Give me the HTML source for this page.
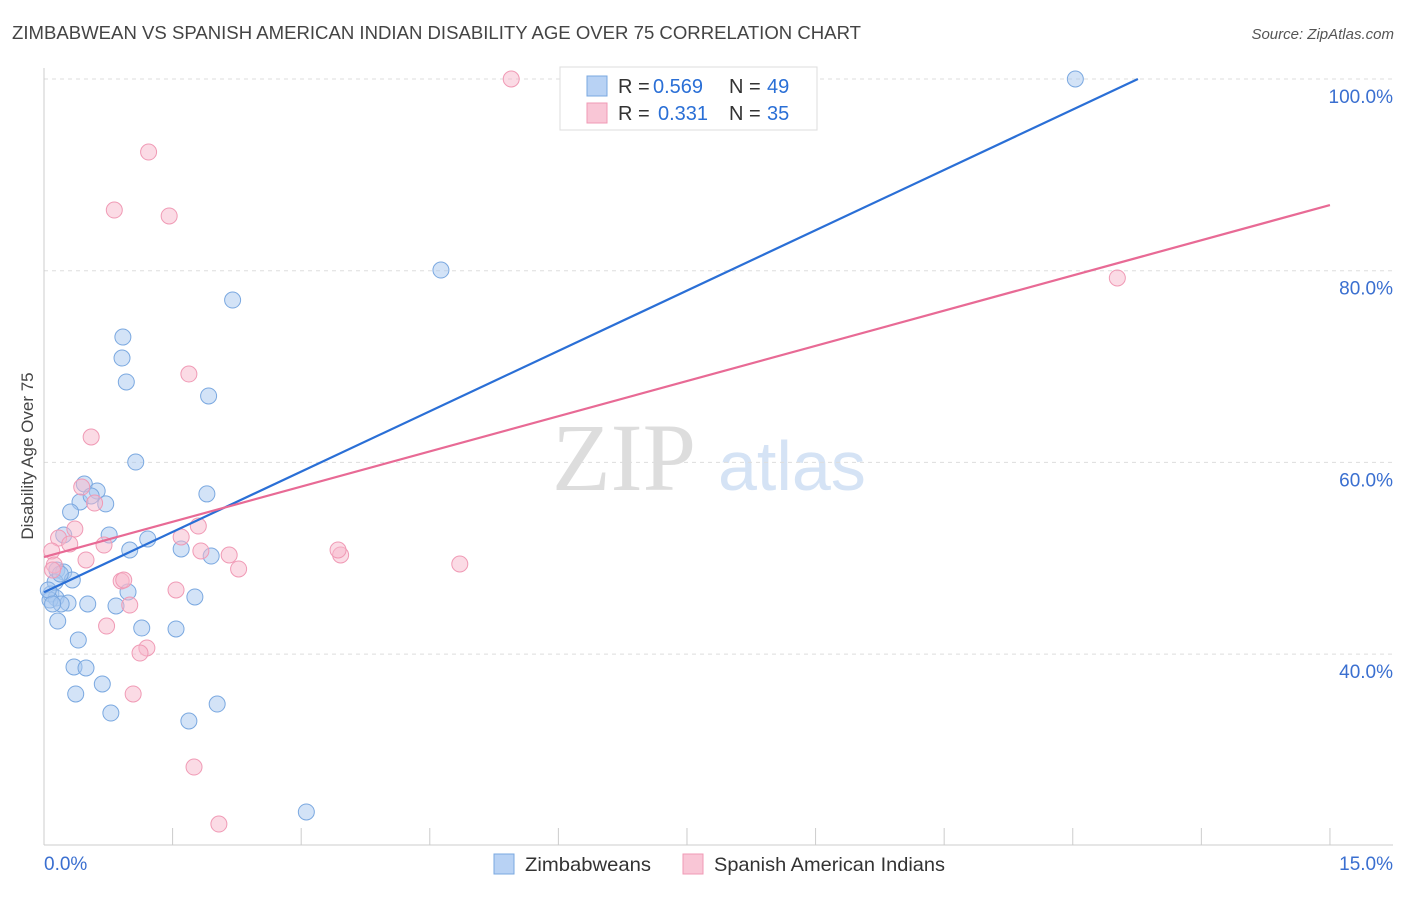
<!DOCTYPE html>
<html><head><meta charset="utf-8"><style>
body{margin:0;background:#fff;font-family:"Liberation Sans",sans-serif;}
svg text{font-family:"Liberation Sans",sans-serif;}
</style></head><body>
<svg id="chart" width="1406" height="892" viewBox="0 0 1406 892" xmlns="http://www.w3.org/2000/svg">
<text x="12" y="39" font-size="18.5" fill="#444" textLength="849" lengthAdjust="spacingAndGlyphs">ZIMBABWEAN VS SPANISH AMERICAN INDIAN DISABILITY AGE OVER 75 CORRELATION CHART</text>
<text x="1394" y="39" font-size="15" fill="#555" text-anchor="end" font-style="italic">Source: ZipAtlas.com</text>
<text x="552" y="490" font-size="96" fill="#ddd" font-family="Liberation Serif" style="font-family:'Liberation Serif',serif">ZIP</text>
<text x="718" y="490" font-size="70" fill="#d5e3f5">atlas</text>
<text transform="translate(33,456) rotate(-90)" font-size="17" fill="#444" text-anchor="middle">Disability Age Over 75</text>
<g id="grid"></g>
<g id="axes"></g>
<g id="marks"></g>
<g>
<rect x="560" y="67" width="257" height="63" fill="#fff" stroke="#ddd"/>
<rect x="587" y="76" width="20" height="20" fill="#b8d2f4" stroke="#7aa8e0"/>
<text x="618" y="93" font-size="20" fill="#333">R =</text>
<text x="653" y="93" font-size="20" fill="#2a6fd6">0.569</text>
<text x="729" y="93" font-size="20" fill="#333">N =</text>
<text x="767" y="93" font-size="20" fill="#2a6fd6">49</text>
<rect x="587" y="103" width="20" height="20" fill="#f9c6d6" stroke="#f09ab5"/>
<text x="618" y="120" font-size="20" fill="#333">R =</text>
<text x="658" y="120" font-size="20" fill="#2a6fd6">0.331</text>
<text x="729" y="120" font-size="20" fill="#333">N =</text>
<text x="767" y="120" font-size="20" fill="#2a6fd6">35</text>
</g>
<g>
<rect x="494" y="854" width="20" height="20" fill="#b8d2f4" stroke="#7aa8e0"/>
<text x="525" y="871" font-size="19.5" fill="#333" textLength="126" lengthAdjust="spacingAndGlyphs">Zimbabweans</text>
<rect x="683" y="854" width="20" height="20" fill="#f9c6d6" stroke="#f09ab5"/>
<text x="714" y="871" font-size="19.5" fill="#333" textLength="231" lengthAdjust="spacingAndGlyphs">Spanish American Indians</text>
</g>
</svg>
<script>
const blueX=[12.03,4.63,2.20,0.92,0.91,0.96,1.92,1.07,1.90,0.47,0.62,0.42,0.55,0.72,0.31,0.23,0.76,1.21,1.00,1.60,1.95,0.15,0.23,0.33,0.13,0.08,0.14,0.07,0.28,0.20,0.51,0.84,0.98,1.76,0.16,0.40,1.14,1.54,0.35,0.49,0.37,0.68,0.78,2.02,1.69,3.06,0.05,0.19,0.10];
const blueY=[100,80.07,76.94,73.08,70.89,68.39,66.93,60.04,56.71,57.75,57.02,55.87,56.50,55.67,54.83,52.43,52.43,52.01,50.86,50.97,50.23,48.77,48.57,47.73,47.52,46.27,45.85,45.64,45.33,45.23,45.23,45.02,46.48,45.96,43.45,41.47,42.72,42.62,38.66,38.55,35.84,36.88,33.85,34.79,33.02,23.53,46.69,48.36,45.23];
const pinkX=[5.45,1.22,0.82,1.46,1.69,0.55,0.44,0.59,0.36,0.17,0.30,0.70,0.09,0.49,0.12,0.10,1.60,1.80,1.83,2.16,2.27,3.46,3.43,4.85,12.52,0.90,0.93,1.00,1.54,0.73,1.20,1.12,1.04,1.75,2.04];
const pinkY=[100,92.38,86.33,85.71,69.22,62.65,57.43,55.76,53.05,52.11,51.49,51.38,50.76,49.82,49.30,48.77,52.22,53.36,50.76,50.34,48.88,50.34,50.86,49.40,79.24,47.63,47.73,45.12,46.69,42.93,40.64,40.11,35.84,28.22,22.27];
const blueTrend=[[0,46.45],[12.76,100]];
const pinkTrend=[[0,50.13],[15,86.85]];
const yTicks=[100,80,60,40];
const yTickLabels=["100.0%","80.0%","60.0%","40.0%"];
const xTicks=[0,1.5,3,4.5,6,7.5,9,10.5,12,13.5,15];
const xs=v=>44+v*85.73;
const ys=v=>79+(100-v)*9.585;
const NS="http://www.w3.org/2000/svg";
function mk(tag,attrs,parent){const e=document.createElementNS(NS,tag);for(const k in attrs)e.setAttribute(k,attrs[k]);parent.appendChild(e);return e;}
const grid=document.getElementById('grid'),axes=document.getElementById('axes'),marks=document.getElementById('marks');
yTicks.forEach((t,i)=>{
 const l=mk('line',{x1:44,x2:1393,y1:ys(t),y2:ys(t),stroke:'#ddd','stroke-dasharray':'4,4'},grid);
 
 
 const tx=mk('text',{x:1393,y:ys(t)+24,'font-size':19,fill:'#3a6fd0','text-anchor':'end'},grid);
 tx.textContent=yTickLabels[i];
 
 
});
let a=mk('line',{x1:44,x2:44,y1:68,y2:845,stroke:'#ccc'},axes);


a=mk('line',{x1:44,x2:1393,y1:845,y2:845,stroke:'#ccc'},axes);


xTicks.forEach(t=>{
 const l=mk('line',{x1:xs(t),x2:xs(t),y1:828,y2:845,stroke:'#ccc'},axes);
 
 
});
let t0=mk('text',{x:44,y:870,'font-size':19,fill:'#3a6fd0'},axes);t0.textContent='0.0%';


let t1=mk('text',{x:1393,y:870,'font-size':19,fill:'#3a6fd0','text-anchor':'end'},axes);t1.textContent='15.0%';


function pts(X,Y,fill,stroke,name){X.forEach((x,i)=>{
 const c=mk('circle',{cx:xs(x),cy:ys(Y[i]),r:8,fill:fill,'fill-opacity':0.5,stroke:stroke,'stroke-width':1},marks);
 
 
});}
pts(blueX,blueY,'#a8c8f0','#7aa8e0','zimbabwean-point');
pts(pinkX,pinkY,'#f8b8cc','#f09ab5','spanish-american-indian-point');
let bl=mk('line',{x1:xs(blueTrend[0][0]),y1:ys(blueTrend[0][1]),x2:xs(blueTrend[1][0]),y2:ys(blueTrend[1][1]),stroke:'#2a6fd6','stroke-width':2.2},marks);


let pl=mk('line',{x1:xs(pinkTrend[0][0]),y1:ys(pinkTrend[0][1]),x2:xs(pinkTrend[1][0]),y2:ys(pinkTrend[1][1]),stroke:'#e86a95','stroke-width':2.2},marks);


</script>
</body></html>
